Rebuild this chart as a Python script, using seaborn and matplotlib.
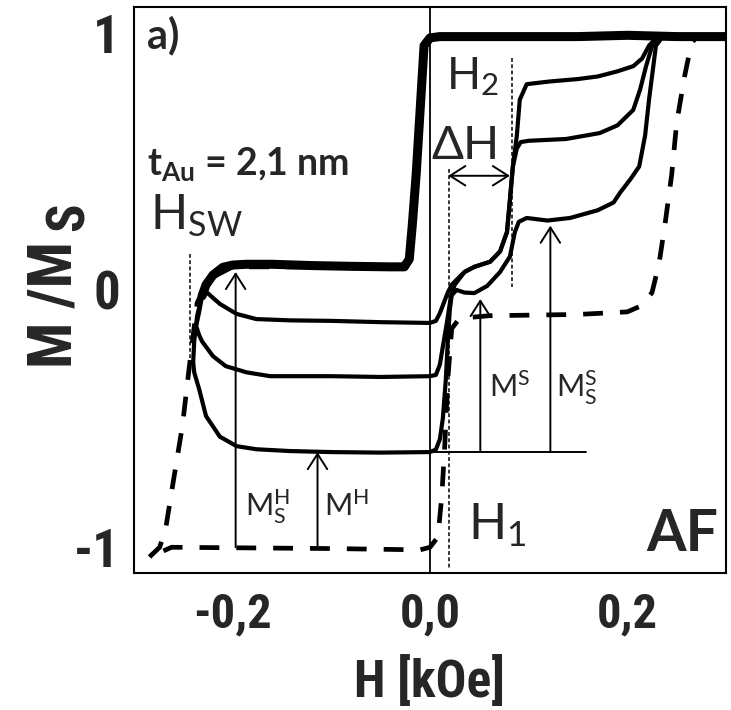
import matplotlib
matplotlib.use("Agg")
import matplotlib.pyplot as plt
import seaborn as sns
import pandas as pd
from matplotlib import font_manager as fm

# ---------------- data ----------------
desc_H = [0.300, 0.250, 0.200, 0.150, 0.100, 0.050, 0.010, 0.000, -0.006, -0.010,
          -0.014, -0.018, -0.021, -0.026, -0.040, -0.080, -0.120, -0.160, -0.186,
          -0.200, -0.210, -0.220, -0.227, -0.231]
desc_M = [0.985, 0.985, 0.990, 0.985, 0.985, 0.985, 0.985, 0.980, 0.950, 0.700,
          0.450, 0.250, 0.120, 0.090, 0.090, 0.092, 0.095, 0.100, 0.100,
          0.097, 0.088, 0.058, 0.020, -0.023]

loop1_H = [-0.231, -0.228, -0.226, -0.213, -0.196, -0.176, -0.142, -0.100, -0.050,
           0.000, 0.006, 0.010, 0.014, 0.018, 0.022, 0.027, 0.035, 0.045, 0.061,
           0.071, 0.078, 0.081, 0.084, 0.088, 0.091, 0.098, 0.120, 0.150, 0.170,
           0.190, 0.206, 0.215, 0.222, 0.230, 0.245, 0.300]
loop1_M = [-0.023, 0.000, -0.010, -0.054, -0.093, -0.113, -0.118, -0.120, -0.125,
           -0.128, -0.120, -0.090, -0.050, -0.010, 0.020, 0.040, 0.070, 0.090, 0.110,
           0.150, 0.225, 0.350, 0.480, 0.600, 0.740, 0.800, 0.810, 0.820, 0.830,
           0.850, 0.870, 0.900, 0.950, 0.982, 0.985, 0.985]

loop2_H = [-0.231, -0.234, -0.237, -0.234, -0.231, -0.220, -0.207, -0.186, -0.162,
           -0.142, -0.100, -0.050, 0.000, 0.006, 0.010, 0.013, 0.017, 0.021, 0.025,
           0.030, 0.035, 0.045, 0.061, 0.071, 0.078, 0.081, 0.084, 0.088, 0.092,
           0.100, 0.138, 0.172, 0.190, 0.206, 0.213, 0.219, 0.226, 0.233, 0.250, 0.300]
loop2_M = [-0.023, -0.086, -0.140, -0.175, -0.200, -0.257, -0.296, -0.320, -0.335,
           -0.335, -0.335, -0.338, -0.335, -0.330, -0.290, -0.220, -0.130, -0.030, 0.020,
           0.045, 0.070, 0.090, 0.110, 0.150, 0.225, 0.350, 0.480, 0.550, 0.575,
           0.580, 0.587, 0.610, 0.640, 0.700, 0.780, 0.870, 0.960, 0.985, 0.985, 0.985]

loop3_H = [-0.231, -0.236, -0.239, -0.240, -0.239, -0.234, -0.227, -0.213, -0.196,
           -0.176, -0.142, -0.100, -0.050, 0.000, 0.006, 0.010, 0.013, 0.016, 0.018,
           0.020, 0.022, 0.027, 0.035, 0.045, 0.058, 0.071, 0.081, 0.086, 0.090,
           0.098, 0.119, 0.142, 0.170, 0.186, 0.193, 0.203, 0.212, 0.218, 0.222,
           0.226, 0.229, 0.236, 0.255, 0.300]
loop3_M = [-0.023, -0.100, -0.200, -0.280, -0.320, -0.385, -0.490, -0.570, -0.607,
           -0.619, -0.626, -0.630, -0.632, -0.630, -0.620, -0.580, -0.500, -0.350, -0.200,
           -0.080, -0.020, 0.000, -0.010, -0.012, 0.016, 0.070, 0.130, 0.225, 0.265,
           0.280, 0.270, 0.280, 0.310, 0.340, 0.380, 0.430, 0.480, 0.600, 0.740,
           0.860, 0.950, 0.985, 0.985, 0.985]

major_H = [0.300, 0.100, 0.000, -0.006, -0.021, -0.030, -0.200, -0.225, -0.236,
           -0.244, -0.251, -0.260, -0.268, -0.274, -0.285, -0.262, -0.100, -0.010,
           0.000, 0.008, 0.012, 0.015, 0.018, 0.022, 0.030, 0.060, 0.150, 0.200,
           0.215, 0.225, 0.232, 0.238, 0.245, 0.250, 0.258, 0.265, 0.272, 0.300]
major_M = [0.985, 0.985, 0.980, 0.950, 0.120, 0.090, 0.090, 0.040, -0.050,
           -0.300, -0.530, -0.740, -0.930, -1.000, -1.040, -1.000, -1.005, -1.010,
           -1.000, -0.960, -0.800, -0.600, -0.350, -0.150, -0.110, -0.100, -0.095, -0.085,
           -0.060, -0.010, 0.100, 0.250, 0.450, 0.650, 0.830, 0.960, 0.990, 0.990]

x_ticks = [-0.2, 0.0, 0.2]
x_ticklabels = ["-0,2", "0,0", "0,2"]
x_minor = [-0.1, 0.1]
y_ticks = [-1, 0, 1]
y_ticklabels = ["-1", "0", "1"]

# ---------------- style / fonts ----------------
sns.set_style("white")
avail = {f.name for f in fm.fontManager.ttflist}


def pick(*names):
    for n in names:
        if n in avail:
            return n
    return "DejaVu Sans"


NARROW = pick("Liberation Sans Narrow", "Roboto Condensed", "Liberation Sans")
CAL = pick("Lato", "Open Sans", "Noto Sans")
plt.rcParams["font.family"] = [CAL, "DejaVu Sans"]
plt.rcParams["mathtext.fontset"] = "custom"
plt.rcParams["mathtext.rm"] = CAL
plt.rcParams["mathtext.it"] = CAL + ":italic"
plt.rcParams["mathtext.bf"] = CAL + ":bold"

narrow_kw = dict(family=NARROW, weight="bold", stretch="condensed")

fig = plt.figure(figsize=(7.31, 7.10), dpi=100)
ax = fig.add_axes([134 / 731, 137 / 710, 592 / 731, 566 / 710])

# ---------------- curves ----------------
def curve(H, M, **kw):
    df = pd.DataFrame({"H": H, "M": M})
    sns.lineplot(data=df, x="H", y="M", sort=False, estimator=None, ax=ax,
                 color="black", **kw)
    return ax.lines[-1]

ln = curve(major_H, major_M, lw=3.4)
ln.set_linestyle((0, (4.2, 3.6)))
ln.set_dash_capstyle("butt")

for H, M in [(loop1_H, loop1_M), (loop2_H, loop2_M), (loop3_H, loop3_M)]:
    l = curve(H, M, lw=3.0)
    l.set_solid_joinstyle("round")
l = curve(desc_H, desc_M, lw=6.5)
l.set_solid_joinstyle("round")

ax.axvline(0.0, color="black", lw=1.3, zorder=1)

# ---------------- annotation lines ----------------
dot = dict(color="black", lw=1.1, ls=(0, (2.5, 1.6)))
ax.plot([-0.243, -0.243], [0.14, -0.30], **dot)
ax.plot([0.019, 0.019], [0.47, -1.08], **dot)
ax.plot([0.083, 0.083], [0.90, 0.01], **dot)
ax.plot([0.0, 0.158], [-0.63, -0.63], color="black", lw=1.4)

arrow = dict(arrowstyle="->,head_length=0.55,head_width=0.35", lw=1.4,
             color="black", shrinkA=0, shrinkB=0, mutation_scale=20)
ax.annotate("", xy=(-0.197, 0.07), xytext=(-0.197, -1.0), arrowprops=arrow)
ax.annotate("", xy=(-0.114, -0.63), xytext=(-0.114, -1.0), arrowprops=arrow)
ax.annotate("", xy=(0.051, -0.035), xytext=(0.051, -0.63), arrowprops=arrow)
ax.annotate("", xy=(0.122, 0.25), xytext=(0.122, -0.63), arrowprops=arrow)
darrow = dict(arrow, arrowstyle="<->,head_length=0.55,head_width=0.35")
ax.annotate("", xy=(0.081, 0.444), xytext=(0.0185, 0.444), arrowprops=darrow)

# ---------------- texts ----------------
ax.text(-0.287, 0.94, "a)", fontsize=30, fontweight="bold", va="baseline")
ax.text(-0.287, 0.447, r"$\mathbf{t_{Au}}$ = 2,1 nm", fontsize=27,
        fontweight="bold", va="baseline")
ax.text(-0.284, 0.237, r"$\mathrm{H_{SW}}$", fontsize=35, va="baseline")
ax.text(0.016, 0.78, r"$\mathrm{H_{2}}$", fontsize=32, va="baseline")
ax.text(0.001, 0.51, "\u0394H", fontsize=34, va="baseline",
        family=[CAL, "Open Sans", "DejaVu Sans"])
ax.text(0.039, -0.969, r"$\mathrm{H_{1}}$", fontsize=36, va="baseline")
ax.text(-0.188, -0.88, r"$\mathrm{M_S^H}$", fontsize=22, va="baseline")
ax.text(-0.107, -0.88, r"$\mathrm{M^H}$", fontsize=22, va="baseline")
ax.text(0.060, -0.416, r"$\mathrm{M^S}$", fontsize=22, va="baseline")
ax.text(0.128, -0.416, r"$\mathrm{M_S^S}$", fontsize=22, va="baseline")
ax.text(0.219, -1.016, "AF", fontsize=41, fontweight="bold", va="baseline")

# ---------------- axes ----------------
ax.set_xlim(-0.3, 0.3)
ax.set_ylim(-1.1, 1.1)
ax.set_xticks(x_ticks)
ax.set_xticks(x_minor, minor=True)
ax.set_yticks(y_ticks)
ax.set_xticklabels(x_ticklabels, fontproperties=fm.FontProperties(size=35, **narrow_kw))
ax.set_yticklabels(y_ticklabels, fontproperties=fm.FontProperties(size=38, **narrow_kw))
ax.tick_params(axis="both", which="both", direction="in", length=8, width=1.3,
               color="black")
ax.tick_params(axis="x", which="both", pad=13)
ax.tick_params(axis="y", pad=10)
ax.set_xlabel("H [kOe]", fontproperties=fm.FontProperties(size=37, **narrow_kw),
              labelpad=14)
ylab_font = fm.FontProperties(size=44, **narrow_kw)
ax.set_ylabel("M /M", fontproperties=ylab_font)
ax.yaxis.set_label_coords(-0.085, 0.475)
ax.text(-0.066, 0.63, "S", fontproperties=fm.FontProperties(size=38, **narrow_kw),
        rotation=90, rotation_mode="anchor", ha="center", va="bottom",
        transform=ax.transAxes)
for s in ax.spines.values():
    s.set_linewidth(1.5)
    s.set_color("black")

fig.savefig("out.png", dpi=100)
